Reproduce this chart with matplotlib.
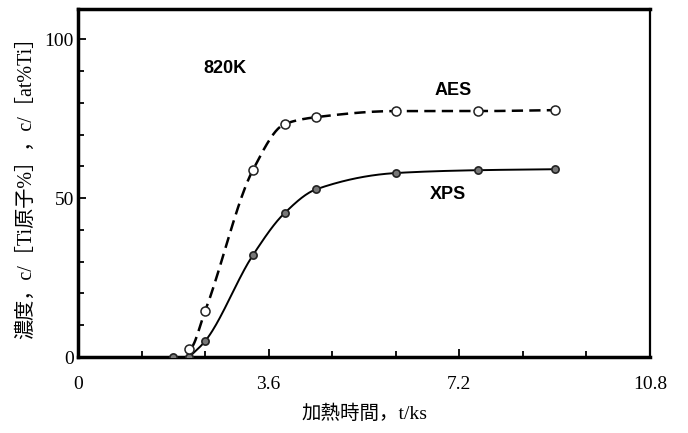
import numpy as np
import matplotlib.pyplot as plt
from matplotlib.ticker import MultipleLocator

# Ti concentration vs heating time at 820 K
t_xps = [1.8, 2.1, 2.4, 3.3, 3.9, 4.5, 6.0, 7.56, 9.0]
c_xps = [0, 0, 5.0, 32.0, 45.3, 52.8, 57.9, 58.8, 59.1]

t_aes = [2.1, 2.4, 3.3, 3.9, 4.5, 6.0, 7.56, 9.0]
c_aes = [2.5, 14.5, 58.8, 73.3, 75.5, 77.4, 77.4, 77.7]


def smooth(x, y, n=300):
    # monotone cubic (Fritsch-Carlson) curve through the points
    x = np.asarray(x, float)
    y = np.asarray(y, float)
    h = np.diff(x)
    d = np.diff(y) / h
    m = np.zeros_like(y)
    m[0], m[-1] = d[0], d[-1]
    for k in range(1, len(x) - 1):
        if d[k - 1] * d[k] > 0:
            w1 = 2 * h[k] + h[k - 1]
            w2 = h[k] + 2 * h[k - 1]
            m[k] = (w1 + w2) / (w1 / d[k - 1] + w2 / d[k])
    xs = np.linspace(x[0], x[-1], n)
    i = np.clip(np.searchsorted(x, xs) - 1, 0, len(x) - 2)
    s = (xs - x[i]) / h[i]
    h00 = 2 * s**3 - 3 * s**2 + 1
    h10 = s**3 - 2 * s**2 + s
    h01 = -2 * s**3 + 3 * s**2
    h11 = s**3 - s**2
    ys = h00 * y[i] + h10 * h[i] * m[i] + h01 * y[i + 1] + h11 * h[i] * m[i + 1]
    return xs, ys


fig = plt.figure(figsize=(6.88, 4.33), dpi=100)
ax = fig.add_axes([0.1134, 0.1755, 0.8314, 0.8035])

xs, ys = smooth(t_xps[1:], c_xps[1:])
ax.plot(xs, ys, color='black', lw=1.4, zorder=2)
xa, ya = smooth([2.15] + t_aes, [0] + c_aes)
ax.plot(xa, ya, color='black', lw=1.8, ls=(0, (4.5, 2.5)), zorder=2)

ax.plot(t_xps, c_xps, 'o', ms=5.2, mfc='#777777', mec='#222222', mew=1.2,
        ls='none', zorder=3)
ax.plot(t_aes, c_aes, 'o', ms=6.5, mfc='white', mec='#222222', mew=1.1,
        ls='none', zorder=3)

bold = dict(family='Liberation Sans', fontweight='bold', fontsize=13,
            ha='center', va='center')
ax.text(2.78, 90.9, '820K', **bold)
ax.text(7.09, 84.0, 'AES', **bold)
ax.text(6.98, 51.3, 'XPS', **bold)

ax.set_xlim(0, 10.8)
ax.set_ylim(0, 109.5)
ax.set_xticks([0, 3.6, 7.2, 10.8])
ax.set_xticklabels(['0', '3.6', '7.2', '10.8'])
ax.xaxis.set_minor_locator(MultipleLocator(1.2))
ax.set_yticks([0, 50, 100])
ax.yaxis.set_minor_locator(MultipleLocator(10))
ax.tick_params(which='both', direction='in', top=False, right=False,
               width=1.3, labelsize=14)
ax.tick_params(which='major', length=6)
ax.tick_params(which='minor', length=4)
ax.tick_params(axis='x', pad=14)
ax.tick_params(axis='y', pad=3)
for lbl in ax.get_xticklabels() + ax.get_yticklabels():
    lbl.set_family('Liberation Serif')

for side in ['left', 'bottom', 'top']:
    ax.spines[side].set_linewidth(2.5)
ax.spines['right'].set_linewidth(1.6)

cjk = ['Liberation Serif', 'Noto Sans CJK JP']
ax.set_xlabel('加熱時間，t/ks', family=cjk, fontsize=14, labelpad=8)
ax.set_ylabel('濃度，c/［Ti原子%］，c/［at%Ti］', family=cjk, fontsize=14.5,
              labelpad=6)

fig.savefig('out.png', dpi=100)
